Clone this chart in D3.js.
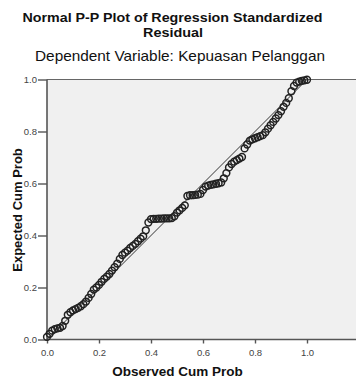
<!DOCTYPE html>
<html>
<head>
<meta charset="utf-8">
<script src="https://cdn.jsdelivr.net/npm/d3@7/dist/d3.min.js"></script>
<style>
  body { margin: 0; background: #fff; }
  svg { display: block; font-family: "Liberation Sans", Arial, sans-serif; }
</style>
</head>
<body>
<svg id="chart" width="356" height="378"></svg>
<script>
// observed vs expected cumulative probability
const observed = [0.00, 0.01, 0.02, 0.03, 0.04, 0.05, 0.06, 0.07, 0.08, 0.09,
  0.10, 0.11, 0.12, 0.13, 0.14, 0.15, 0.16, 0.17, 0.18, 0.19,
  0.20, 0.21, 0.22, 0.23, 0.24, 0.25, 0.26, 0.27, 0.28, 0.29,
  0.30, 0.31, 0.32, 0.33, 0.34, 0.35, 0.36, 0.37, 0.38, 0.39,
  0.40, 0.41, 0.42, 0.43, 0.44, 0.45, 0.46, 0.47, 0.48, 0.49,
  0.50, 0.51, 0.52, 0.53, 0.54, 0.55, 0.56, 0.57, 0.58, 0.59,
  0.60, 0.61, 0.62, 0.63, 0.64, 0.65, 0.66, 0.67, 0.68, 0.69,
  0.70, 0.71, 0.72, 0.73, 0.74, 0.75, 0.76, 0.77, 0.78, 0.79,
  0.80, 0.81, 0.82, 0.83, 0.84, 0.85, 0.86, 0.87, 0.88, 0.89,
  0.90, 0.91, 0.92, 0.93, 0.94, 0.95, 0.96, 0.97, 0.98, 0.99, 1.00];
const expected = [0.010, 0.022, 0.034, 0.040, 0.043, 0.045, 0.052, 0.072, 0.095, 0.105,
  0.112, 0.117, 0.122, 0.128, 0.136, 0.146, 0.160, 0.175, 0.192, 0.200,
  0.210, 0.222, 0.233, 0.242, 0.252, 0.265, 0.278, 0.292, 0.310, 0.325,
  0.334, 0.342, 0.352, 0.360, 0.368, 0.378, 0.388, 0.397, 0.420, 0.450,
  0.463, 0.464, 0.464, 0.465, 0.465, 0.466, 0.466, 0.466, 0.467, 0.474,
  0.488, 0.497, 0.506, 0.516, 0.552, 0.555, 0.555, 0.556, 0.557, 0.560,
  0.575, 0.588, 0.592, 0.595, 0.597, 0.599, 0.601, 0.604, 0.620, 0.640,
  0.662, 0.675, 0.684, 0.690, 0.696, 0.702, 0.735, 0.750, 0.765, 0.770,
  0.774, 0.778, 0.782, 0.786, 0.797, 0.811, 0.824, 0.837, 0.850, 0.863,
  0.878, 0.895, 0.910, 0.928, 0.955, 0.975, 0.988, 0.992, 0.995, 0.997, 0.999];
const ticks = [0, 0.2, 0.4, 0.6, 0.8, 1.0];
const diagonal = [[0, 0], [1, 1]];

const svg = d3.select('#chart');
const plotLeft = 47, plotRight = 356, plotTop = 79.5, plotBottom = 339.5;

const x = d3.scaleLinear().domain([0, 1]).range([plotLeft, 307]);
const y = d3.scaleLinear().domain([0, 1]).range([plotBottom, plotTop]);

// plot background
svg.append('rect')
  .attr('x', plotLeft).attr('y', plotTop)
  .attr('width', plotRight - plotLeft).attr('height', plotBottom - plotTop)
  .attr('fill', '#f0f0f0');

svg.append('line')
  .attr('x1', plotLeft).attr('x2', plotRight)
  .attr('y1', plotTop).attr('y2', plotTop)
  .attr('stroke', '#666').attr('stroke-width', 1);

const xAxis = svg.append('g')
  .attr('transform', 'translate(0,' + plotBottom + ')')
  .call(d3.axisBottom(x).tickValues(ticks).tickFormat(d3.format('.1f')).tickSize(4).tickSizeOuter(0));
xAxis.select('.domain').attr('d', 'M' + plotLeft + ',0H' + plotRight);

const yAxis = svg.append('g')
  .attr('transform', 'translate(' + plotLeft + ',0)')
  .call(d3.axisLeft(y).tickValues(ticks).tickFormat(d3.format('.1f')).tickSize(9).tickSizeOuter(0));
yAxis.select('.domain').attr('d', 'M0,' + plotTop + 'V' + plotBottom);

svg.selectAll('.domain').attr('stroke', '#555').attr('stroke-width', 1.6);
svg.selectAll('.tick line').attr('stroke', '#555').attr('stroke-width', 1.4);
svg.selectAll('.tick text').attr('fill', '#444').attr('font-size', 9.5)
  .attr('font-family', '"Liberation Sans", Arial, sans-serif');
xAxis.selectAll('.tick text').attr('dy', '0.95em');
yAxis.selectAll('.tick text').attr('x', -10);

// reference line
svg.append('path')
  .attr('d', d3.line().x(d => x(d[0])).y(d => y(d[1]))(diagonal))
  .attr('stroke', '#333').attr('stroke-width', 1).attr('fill', 'none');

// points
svg.append('g').selectAll('circle')
  .data(observed.map((o, i) => [o, expected[i]]))
  .enter()
  .append('circle')
  .attr('cx', d => x(d[0]))
  .attr('cy', d => y(d[1]))
  .attr('r', 3.4)
  .attr('fill', 'none')
  .attr('stroke', '#222')
  .attr('stroke-width', 1.5);

// titles
svg.append('text').attr('x', 172.5).attr('y', 22)
  .attr('text-anchor', 'middle').attr('font-weight', 'bold').attr('font-size', 12.5)
  .attr('textLength', 300).attr('lengthAdjust', 'spacingAndGlyphs')
  .attr('fill', '#111').text('Normal P-P Plot of Regression Standardized');
svg.append('text').attr('x', 173).attr('y', 36.5)
  .attr('text-anchor', 'middle').attr('font-weight', 'bold').attr('font-size', 12.5)
  .attr('textLength', 60).attr('lengthAdjust', 'spacingAndGlyphs')
  .attr('fill', '#111').text('Residual');
svg.append('text').attr('x', 180).attr('y', 61)
  .attr('text-anchor', 'middle').attr('font-size', 14.5)
  .attr('textLength', 290).attr('lengthAdjust', 'spacingAndGlyphs')
  .attr('fill', '#111').text('Dependent Variable: Kepuasan Pelanggan');

svg.append('text').attr('x', 177.5).attr('y', 376)
  .attr('text-anchor', 'middle').attr('font-weight', 'bold').attr('font-size', 13.5)
  .attr('fill', '#111').text('Observed Cum Prob');
svg.append('text')
  .attr('transform', 'translate(22,210) rotate(-90)')
  .attr('text-anchor', 'middle').attr('font-weight', 'bold').attr('font-size', 13)
  .attr('fill', '#111').text('Expected Cum Prob');
</script>
</body>
</html>
